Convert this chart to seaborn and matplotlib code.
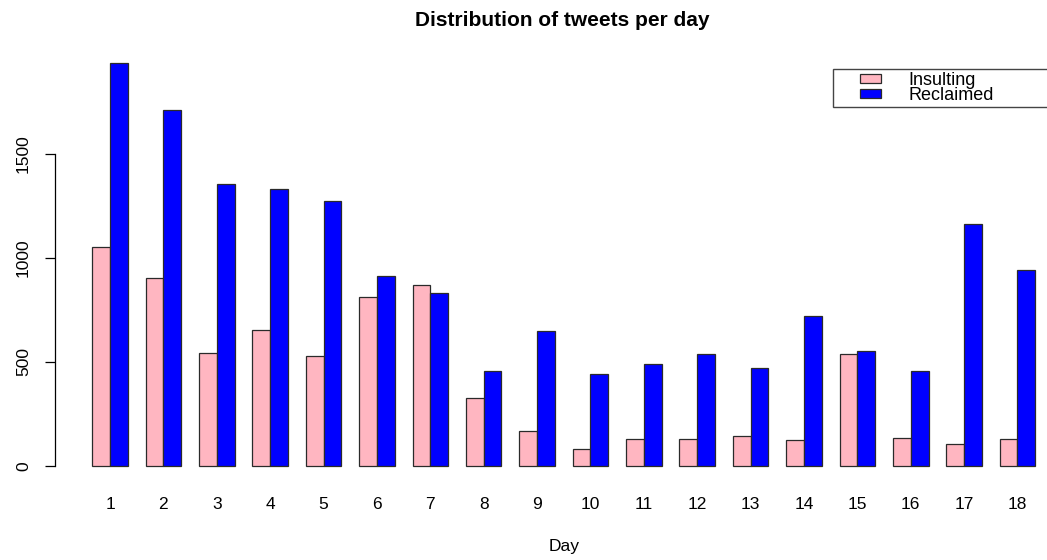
import pandas as pd
import matplotlib
matplotlib.use("Agg")
import matplotlib.pyplot as plt
import seaborn as sns
from matplotlib.patches import Patch, Rectangle

# --- data ---
days = [str(d) for d in range(1, 19)]
insulting = [1051, 902, 545, 655, 526, 812, 870, 325, 168, 82,
             131, 127, 143, 125, 538, 133, 104, 131]
reclaimed = [1939, 1713, 1354, 1333, 1276, 913, 829, 455, 649, 442,
             490, 538, 470, 723, 551, 457, 1165, 944]
series_names = ["Insulting", "Reclaimed"]

df = pd.DataFrame({
    "Day": days * 2,
    "Count": insulting + reclaimed,
    "Type": [series_names[0]] * len(days) + [series_names[1]] * len(days),
})

sns.set_style("white")
plt.rcParams['font.family'] = ['Liberation Sans', 'DejaVu Sans']
plt.rcParams['text.color'] = 'black'
plt.rcParams['xtick.color'] = 'black'
plt.rcParams['ytick.color'] = 'black'
plt.rcParams['axes.labelcolor'] = 'black'

W, H = 1047, 560
fig = plt.figure(figsize=(W / 100, H / 100), dpi=100, facecolor='white')
# R-like plot region (right edge runs past the figure, as in the reference)
ax = fig.add_axes([54.5 / W, 1 - 482 / H, (1073 - 54.5) / W, (482 - 46.5) / H])

palette = {"Insulting": "#FFB6C1", "Reclaimed": "#0000FF"}
sns.barplot(
    data=df, x="Day", y="Count", hue="Type", order=days,
    hue_order=series_names, palette=palette, saturation=1,
    width=2 / 3, edgecolor="#2a2a2a", linewidth=0.9, legend=False, ax=ax
)

ax.set_xlim(-1.04, 18.04)
ax.set_ylim(-77.6, 2016.6)

# axes decoration in R base-graphics style
for s in ["top", "right", "bottom"]:
    ax.spines[s].set_visible(False)
ax.spines["left"].set_bounds(0, 1500)
ax.spines["left"].set_color("black")
ax.spines["left"].set_linewidth(0.9)
ax.set_yticks([0, 500, 1000, 1500])
ax.tick_params(axis="y", length=7, width=0.9, pad=10, labelsize=12.5,
               color="black", left=True)
for lab in ax.get_yticklabels():
    lab.set_rotation(90)
    lab.set_va("center")
ax.tick_params(axis="x", length=0, pad=11, labelsize=12.5)

ax.set_ylabel("")
ax.set_xlabel("Day", fontsize=12.5, labelpad=19)

fig.text(562 / W, 1 - 21 / H, "Distribution of tweets per day",
         ha="center", va="center", fontsize=15, fontweight="bold")

# legend box, running off the right edge like the reference
fig.patches.append(Rectangle((833 / W, 1 - 107 / H), 240 / W, 38 / H,
                             transform=fig.transFigure, facecolor="white",
                             edgecolor="#444444", linewidth=1.0, zorder=5))
handles = [Patch(facecolor=palette[n], edgecolor="#2a2a2a", linewidth=0.9)
           for n in series_names]
leg = fig.legend(
    handles, series_names, loc="upper left",
    bbox_to_anchor=(860 / W, 1 - 72 / H),
    fontsize=13, frameon=False, handlelength=1.17, handleheight=0.4,
    labelspacing=-0.1, handletextpad=1.5, borderpad=0,
    borderaxespad=0
)
leg.set_zorder(6)

fig.savefig("out.png", dpi=100, facecolor="white")
plt.close(fig)
